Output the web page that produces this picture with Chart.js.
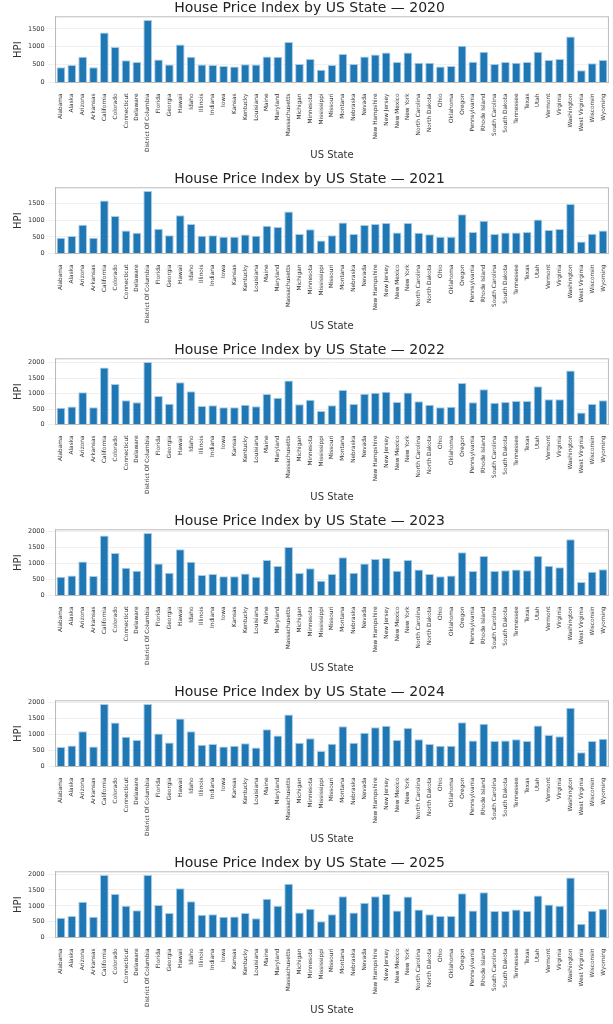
<!DOCTYPE html>
<html>
<head>
<meta charset="utf-8">
<script src="https://cdn.jsdelivr.net/npm/chart.js@4"></script>
<style>
  body { margin:0; background:#fff; }
  .panel { position:relative; width:613px; height:171px; }
</style>
</head>
<body>
<div id="root"></div>
<script>
// States (incl. DC)
const states = ['Alabama','Alaska','Arizona','Arkansas','California','Colorado','Connecticut','Delaware','District Of Columbia','Florida','Georgia','Hawaii','Idaho','Illinois','Indiana','Iowa','Kansas','Kentucky','Louisiana','Maine','Maryland','Massachusetts','Michigan','Minnesota','Mississippi','Missouri','Montana','Nebraska','Nevada','New Hampshire','New Jersey','New Mexico','New York','North Carolina','North Dakota','Ohio','Oklahoma','Oregon','Pennsylvania','Rhode Island','South Carolina','South Dakota','Tennessee','Texas','Utah','Vermont','Virginia','Washington','West Virginia','Wisconsin','Wyoming'];

const hpi2020 = [430,490,720,430,1400,990,620,570,1750,640,500,1060,720,500,490,460,450,510,500,730,720,1130,520,660,360,490,800,520,730,780,840,570,840,550,550,450,460,1030,580,860,520,570,550,570,860,630,660,1290,340,540,630];
const hpi2021 = [474,525,862,474,1595,1130,690,620,1880,740,550,1150,890,535,545,500,500,570,535,835,795,1260,585,725,390,545,930,585,855,890,920,630,920,620,580,500,500,1180,645,985,585,630,630,645,1025,705,735,1490,360,595,690];
const hpi2022 = [546,583,1046,556,1850,1315,787,722,2028,926,676,1370,1074,602,620,556,556,639,593,991,870,1426,657,806,435,620,1120,667,1000,1028,1065,731,1037,750,639,556,574,1343,722,1139,704,731,759,759,1241,815,815,1750,389,667,787];
const hpi2023 = [589,625,1063,607,1875,1330,866,777,1955,1000,714,1446,1054,643,670,598,598,688,589,1107,920,1518,705,848,464,670,1196,714,1000,1143,1170,777,1107,812,670,598,625,1348,768,1232,768,786,812,786,1232,929,884,1759,420,741,821];
const hpi2024 = [613,658,1108,631,1964,1378,937,829,1964,1036,757,1505,1108,685,703,631,649,730,595,1171,973,1631,748,883,486,712,1261,748,1063,1234,1279,829,1207,856,703,649,649,1387,820,1342,802,820,856,802,1288,991,946,1847,450,802,874];
const hpi2025 = [627,682,1127,655,1975,1373,1000,864,1975,1027,773,1555,1145,718,736,655,664,773,609,1227,1000,1700,791,909,509,736,1300,791,1100,1300,1373,855,1291,882,736,682,682,1400,855,1427,836,836,882,836,1327,1045,1000,1891,436,845,909];

const years = ['2020','2021','2022','2023','2024','2025'];
const series = [hpi2020, hpi2021, hpi2022, hpi2023, hpi2024, hpi2025];

const FONT = 'DejaVu Sans';
const root = document.getElementById('root');

years.forEach((yr, i) => {
  const div = document.createElement('div');
  div.className = 'panel';
  const cv = document.createElement('canvas');
  div.appendChild(cv);
  root.appendChild(div);
  const vals = series[i];
  const top = Math.max(...vals) * 1.05;
  new Chart(cv.getContext('2d'), {
    type: 'bar',
    data: {
      labels: states,
      datasets: [{ data: vals, backgroundColor:'#1f77b4', borderColor:'#a9cbe6', borderWidth:1, categoryPercentage:1, barPercentage:0.8 }]
    },
    options: {
      responsive:true, maintainAspectRatio:false, animation:false,
      layout:{ padding:{ top:0, right:2, left:8, bottom:6 } },
      plugins:{
        legend:{ display:false }, tooltip:{ enabled:false },
        title:{ display:true, text:'House Price Index by US State — ' + yr, color:'#222', font:{ family:FONT, size:14, weight:'normal' }, padding:{ top:0, bottom:0 } }
      },
      scales:{
        x:{
          offset:true,
          grid:{ display:false },
          border:{ color:'#bbb' },
          ticks:{ autoSkip:false, minRotation:90, maxRotation:90, color:'#333', font:{ family:FONT, size:5.8 }, padding:3 },
          title:{ display:true, text:'US State', color:'#333', font:{ family:FONT, size:10 }, padding:{ top:6 } }
        },
        y:{
          min:0, max:top,
          afterBuildTicks(s){ const t=[]; for(let v=0; v<=s.max; v+=500) t.push({value:v}); s.ticks=t; },
          grid:{ color:'#f0f0f0' },
          border:{ color:'#bbb' },
          ticks:{ color:'#333', font:{ family:FONT, size:6.5 }, padding:3, callback:v=>String(v) },
          title:{ display:true, text:'HPI', color:'#333', font:{ family:FONT, size:10 }, padding:{ bottom:1 } }
        }
      }
    },
    plugins:[{
      id:'frame',
      afterDraw(c){
        const a = c.chartArea, g = c.ctx;
        g.save(); g.strokeStyle = '#bbb'; g.lineWidth = 1;
        g.strokeRect(a.left, a.top, a.right - a.left, a.bottom - a.top);
        g.restore();
      }
    }]
  });
});
</script>
</body>
</html>
